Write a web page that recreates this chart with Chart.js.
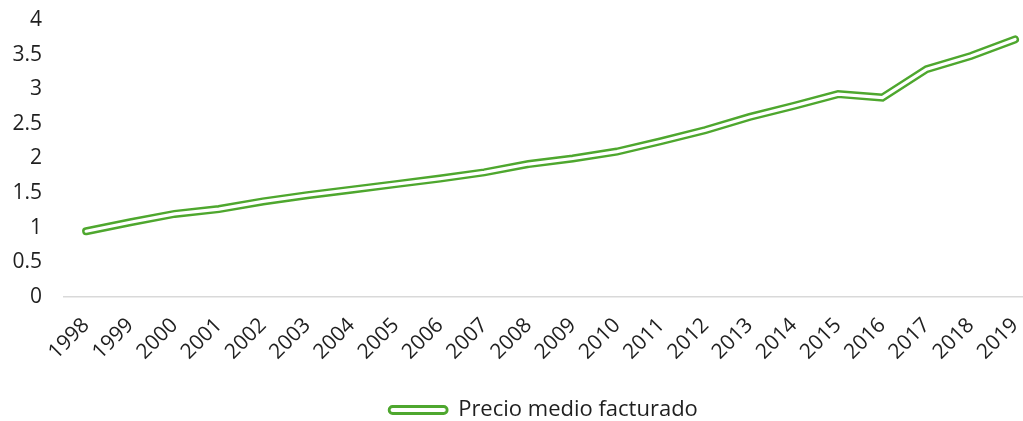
<!DOCTYPE html>
<html>
<head>
<meta charset="utf-8">
<script src="https://cdn.jsdelivr.net/npm/chart.js@4/dist/chart.umd.min.js"></script>
<style>
  html, body { margin: 0; padding: 0; background: #fff; overflow: hidden; }
  #wrap { width: 1023px; height: 421px; position: relative; }
</style>
</head>
<body>
<div id="wrap"><canvas id="c" width="1023" height="421"></canvas></div>
<script>
const years = ['1998','1999','2000','2001','2002','2003','2004','2005','2006','2007','2008','2009','2010','2011','2012','2013','2014','2015','2016','2017','2018','2019'];
const precioMedio = [0.95, 1.08, 1.20, 1.27, 1.38, 1.47, 1.55, 1.63, 1.71, 1.80, 1.92, 2.00, 2.10, 2.25, 2.41, 2.60, 2.76, 2.93, 2.88, 3.29, 3.48, 3.72];
const yTicks = [0, 0.5, 1, 1.5, 2, 2.5, 3, 3.5, 4];
const seriesName = 'Precio medio facturado';

const GREEN = '#4EA72E';
const TEXT = '#1f1f1f';
const FONT = "'Open Sans', 'Noto Sans', sans-serif";
const pts = precioMedio.map((v, i) => ({ x: i, y: v }));

new Chart(document.getElementById('c'), {
  type: 'line',
  data: {
    datasets: [
      {
        label: seriesName + '_inner',
        data: pts,
        borderColor: '#ffffff',
        borderWidth: 3.2,
        pointRadius: 0,
        tension: 0,
        borderCapStyle: 'round',
        borderJoinStyle: 'miter',
        order: 0
      },
      {
        label: seriesName,
        data: pts,
        borderColor: GREEN,
        backgroundColor: '#ffffff',
        borderWidth: 8,
        pointRadius: 0,
        tension: 0,
        borderCapStyle: 'round',
        borderJoinStyle: 'miter',
        order: 1
      }
    ]
  },
  options: {
    responsive: false,
    animation: false,
    devicePixelRatio: 1,
    layout: { padding: { top: 20, right: 0, bottom: -10, left: 11 } },
    plugins: {
      tooltip: { enabled: false },
      legend: {
        position: 'bottom',
        fullSize: false,
        labels: {
          filter: (item) => item.text === seriesName,
          boxWidth: 58,
          boxHeight: 7,
          useBorderRadius: true,
          borderRadius: 3.5,
          color: TEXT,
          font: { family: FONT, size: 22 },
          padding: 0,
          generateLabels: (chart) => {
            const ds = chart.data.datasets[1];
            return [{
              text: ds.label,
              fillStyle: '#ffffff',
              strokeStyle: GREEN,
              lineWidth: 2.8,
              borderRadius: 3.5,
              datasetIndex: 1,
              fontColor: TEXT
            }];
          }
        }
      }
    },
    scales: {
      x: {
        type: 'linear',
        min: -0.5,
        max: 21.18,
        afterBuildTicks: (scale) => { scale.ticks = years.map((_, i) => ({ value: i })); },
        afterFit: (s) => { s.paddingRight = 0; s.paddingLeft = 0; s.height = 102; },
        grid: { display: false, drawTicks: false },
        border: { display: true, color: '#d9d9d9', width: 1.5 },
        ticks: {
          autoSkip: false,
          minRotation: 45,
          maxRotation: 45,
          padding: 16,
          color: TEXT,
          font: { family: FONT, size: 21 },
          callback: (v) => years[v] !== undefined ? years[v] : ''
        }
      },
      y: {
        min: 0,
        max: 4,
        afterBuildTicks: (scale) => { scale.ticks = yTicks.map(v => ({ value: v })); },
        afterFit: (s) => { s.paddingTop = 0; s.paddingBottom = 0; s.width = 53; },
        grid: { display: false, drawTicks: false },
        border: { display: false },
        ticks: {
          padding: 22,
          color: TEXT,
          font: { family: FONT, size: 21 },
          callback: (v) => String(v)
        }
      }
    }
  }
});
</script>
</body>
</html>
